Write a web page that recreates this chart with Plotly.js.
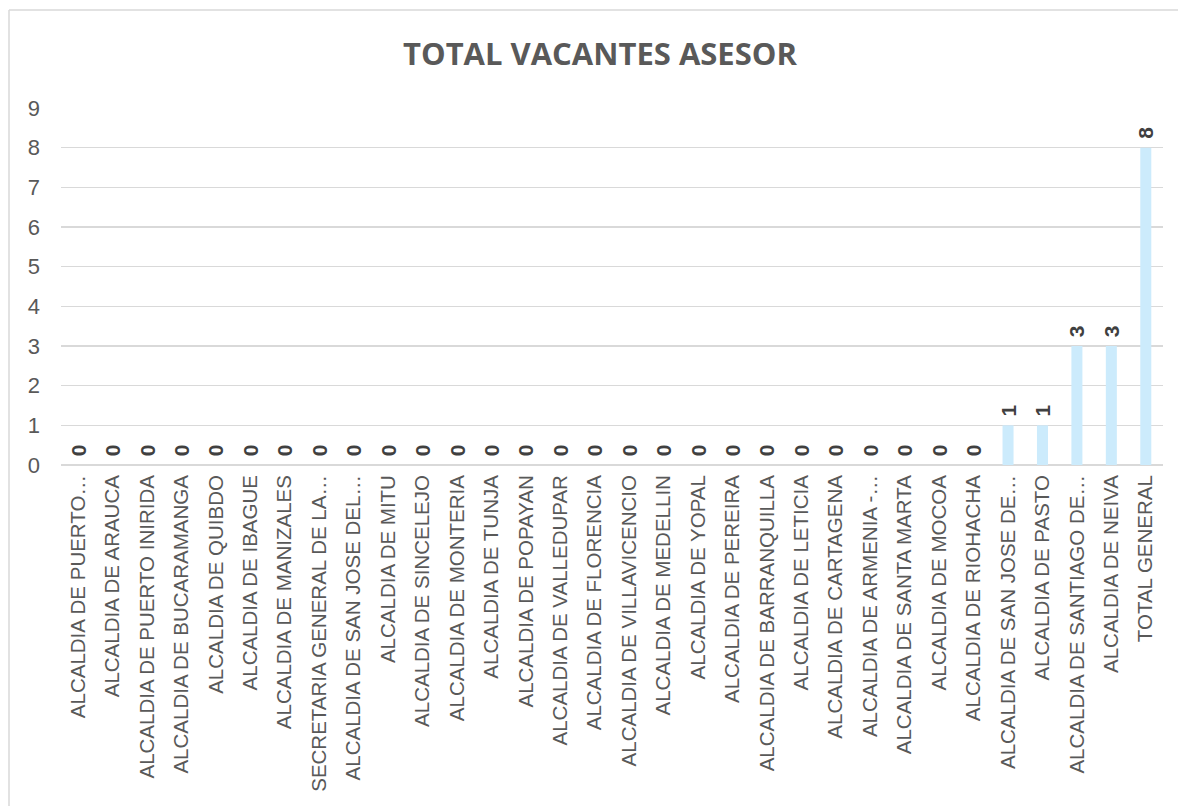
<!DOCTYPE html>
<html>
<head>
<meta charset="utf-8">
<script src="https://cdn.plot.ly/plotly-3.0.1.min.js"></script>
<style>
html,body{margin:0;padding:0;background:#fff;}
#chart{width:1178px;height:806px;}
</style>
</head>
<body>
<div id="chart"></div>
<script>
const categories = [
  "ALCALDIA DE PUERTO…",
  "ALCALDIA DE ARAUCA",
  "ALCALDIA DE PUERTO INIRIDA",
  "ALCALDIA DE BUCARAMANGA",
  "ALCALDIA DE QUIBDO",
  "ALCALDIA DE IBAGUE",
  "ALCALDIA DE MANIZALES",
  "SECRETARIA GENERAL DE LA…",
  "ALCALDIA DE SAN JOSE DEL…",
  "ALCALDIA DE MITU",
  "ALCALDIA DE SINCELEJO",
  "ALCALDIA DE MONTERIA",
  "ALCALDIA DE TUNJA",
  "ALCALDIA DE POPAYAN",
  "ALCALDIA DE VALLEDUPAR",
  "ALCALDIA DE FLORENCIA",
  "ALCALDIA DE VILLAVICENCIO",
  "ALCALDIA DE MEDELLIN",
  "ALCALDIA DE YOPAL",
  "ALCALDIA DE PEREIRA",
  "ALCALDIA DE BARRANQUILLA",
  "ALCALDIA DE LETICIA",
  "ALCALDIA DE CARTAGENA",
  "ALCALDIA DE ARMENIA -…",
  "ALCALDIA DE SANTA MARTA",
  "ALCALDIA DE MOCOA",
  "ALCALDIA DE RIOHACHA",
  "ALCALDIA DE SAN JOSE DE…",
  "ALCALDIA DE PASTO",
  "ALCALDIA DE SANTIAGO DE…",
  "ALCALDIA DE NEIVA",
  "TOTAL GENERAL"
];
const values = [0,0,0,0,0,0,0,0,0,0,0,0,0,0,0,0,0,0,0,0,0,0,0,0,0,0,0,1,1,3,3,8];
const yTicks = [0,1,2,3,4,5,6,7,8,9];
const chartTitle = "TOTAL VACANTES ASESOR";

const trace = {
  type: 'bar',
  x: categories,
  y: values,
  marker: {color: '#CCEBFC'},
  text: values.map(v => '\u00a0' + v),
  textposition: 'outside',
  textangle: -90,
  constraintext: 'none',
  cliponaxis: false,
  textfont: {family: 'Liberation Sans, Arial, sans-serif', size: 21, color: '#404040', weight: 'bold'},
  hoverinfo: 'x+y'
};

const layout = {
  width: 1178,
  height: 806,
  margin: {l: 61, r: 15, t: 108, b: 341},
  paper_bgcolor: '#ffffff',
  plot_bgcolor: '#ffffff',
  bargap: 0.68,
  showlegend: false,
  title: {
    text: '<b>' + chartTitle + '</b>',
    x: 600 / 1178, xref: 'container', xanchor: 'center',
    y: 1 - 54 / 806, yref: 'container', yanchor: 'middle',
    font: {family: 'Open Sans, Liberation Sans, sans-serif', size: 31, color: '#595959'}
  },
  xaxis: {
    type: 'category',
    tickangle: -90,
    tickfont: {family: 'Liberation Sans, Arial, sans-serif', size: 20.5, color: '#595959'},
    showgrid: false,
    showline: false,
    ticks: '',
    ticklabelstandoff: 5,
    automargin: false
  },
  yaxis: {
    range: [0, 9],
    tickvals: yTicks,
    ticktext: yTicks.map(String),
    tickfont: {family: 'Liberation Sans, Arial, sans-serif', size: 22, color: '#595959'},
    showgrid: true,
    gridcolor: '#D9D9D9',
    gridwidth: 1.3,
    zeroline: true,
    zerolinecolor: '#D9D9D9',
    zerolinewidth: 1.3,
    showline: false,
    ticks: '',
    ticklabelstandoff: 20,
    automargin: false
  },
  shapes: [
    {type: 'line', xref: 'paper', yref: 'paper',
     x0: (9 - 61) / 1102, x1: (1178 - 61) / 1102,
     y0: (806 - 341 - 10) / 357, y1: (806 - 341 - 10) / 357,
     line: {color: '#D9D9D9', width: 1.5}},
    {type: 'line', xref: 'paper', yref: 'paper',
     x0: (9 - 61) / 1102, x1: (9 - 61) / 1102,
     y0: (806 - 341 - 10) / 357, y1: (465 - 806) / 357,
     line: {color: '#D9D9D9', width: 1.5}}
  ]
};

Plotly.newPlot('chart', [trace], layout, {displayModeBar: false, staticPlot: true});
</script>
</body>
</html>
